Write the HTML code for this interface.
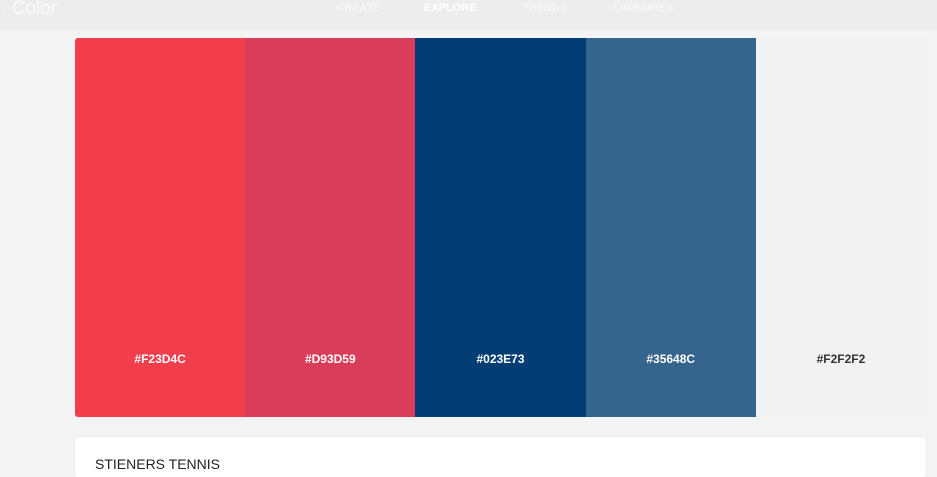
<!DOCTYPE html>
<html><head><meta charset="utf-8"><style>
body{margin:0;width:937px;height:465px;overflow:hidden;background:#f4f4f4;font-family:"Liberation Sans",sans-serif;position:relative}
.top{position:absolute;left:0;top:0;width:937px;height:31px;background:#ededed}
.logo{position:absolute;left:0;top:-2px;font-size:19px;color:#fafafa}
.nav{position:absolute;top:2px;font-size:11px;font-weight:bold;color:#f6f6f6}
.pal{position:absolute;left:75px;top:38px;width:851px;height:379px;border-radius:3px;overflow:hidden;display:flex}
.sw{flex:1;position:relative}
.sw span{position:absolute;left:0;right:0;top:314px;text-align:center;font-size:12px;font-weight:bold;color:#fff}
.card{position:absolute;left:75px;top:437px;width:851px;height:40px;background:#fff;border-radius:3px;box-shadow:0 0 2px rgba(0,0,0,.1)}
.card div{position:absolute;left:20px;top:19px;font-size:14px;color:#222}
</style></head><body>
<div class="top">
<div class="logo">· Color</div>
<div class="nav" style="left:336px">CREATE</div>
<div class="nav" style="left:424px;color:#fff">EXPLORE</div>
<div class="nav" style="left:522px">TRENDS</div>
<div class="nav" style="left:614px">LIBRARIES</div>
</div>
<div class="pal">
<div class="sw" style="background:#F23D4C"><span>#F23D4C</span></div>
<div class="sw" style="background:#D93D59"><span>#D93D59</span></div>
<div class="sw" style="background:#023E73"><span>#023E73</span></div>
<div class="sw" style="background:#35648C"><span>#35648C</span></div>
<div class="sw" style="background:#F2F2F2"><span style="color:#333">#F2F2F2</span></div>
</div>
<div class="card"><div>STIENERS TENNIS</div></div>
</body></html>
